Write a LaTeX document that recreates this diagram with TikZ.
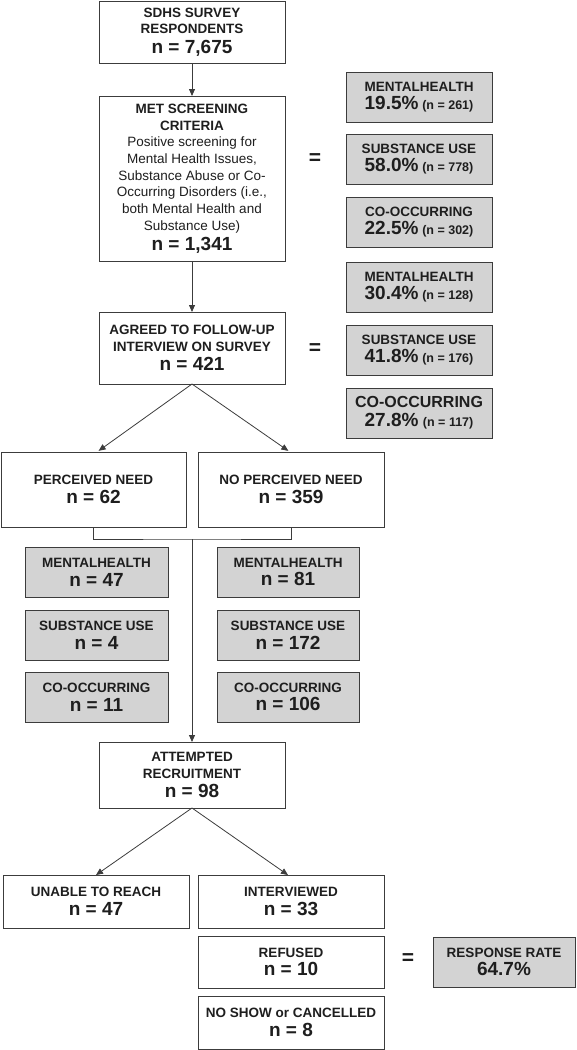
\documentclass[tikz,border=0pt]{standalone}
\usepackage{fontspec}
\setmainfont{Liberation Sans}
\usetikzlibrary{arrows.meta, positioning}
\definecolor{linegray}{RGB}{60,60,60}
\definecolor{fillgray}{RGB}{211,211,211}
\definecolor{textgray}{RGB}{30,30,30}
\newcommand{\bignum}[1]{{\fontsize{19}{20}\selectfont #1}}
\newcommand{\smallnum}[1]{{\fontsize{12.5}{13}\selectfont #1}}
\newcommand{\plain}[1]{{\mdseries #1}}

\begin{document}
\begin{tikzpicture}[
        x=1pt, y=-1pt,
        every node/.style={text=textgray},
        box/.style={rectangle, draw=linegray, line width=1pt, fill=white, minimum width=186pt, inner sep=0pt, outer sep=0pt, align=center, font=\fontsize{13.5}{16.7}\selectfont\bfseries},
        greybox/.style={box, fill=fillgray, minimum width=146pt, minimum height=50pt},
        equal/.style={font=\fontsize{21}{21}\selectfont\bfseries, inner sep=0pt},
        arr/.style={-{Triangle[length=7pt,width=6pt]}, draw=linegray, line width=0.8pt}
    ]
        \useasboundingbox (0,0) rectangle (576,1050);

        % main column
        \node[box, minimum height=62pt] (resp) at (192,32) {SDHS SURVEY\\RESPONDENTS\\[3pt]\bignum{n = 7,675}};
        \node[box, minimum height=165pt, below=33pt of resp] (met) {MET SCREENING\\CRITERIA\\\plain{Positive screening for}\\\plain{Mental Health Issues,}\\\plain{Substance Abuse or Co-}\\\plain{Occurring Disorders (i.e.,}\\\plain{both Mental Health and}\\\plain{Substance Use)}\\[3pt]\bignum{n = 1,341}};
        \node[box, minimum height=72pt, below=51pt of met] (agreed) {AGREED TO FOLLOW-UP\\INTERVIEW ON SURVEY\\[3pt]\bignum{n = 421}};

        % breakdowns on the right
        \node[greybox] (mh1) at (419,97) {MENTALHEALTH\\[2pt]\bignum{19.5\%} \smallnum{(n = 261)}};
        \node[greybox, below=12pt of mh1] (su1) {SUBSTANCE USE\\[2pt]\bignum{58.0\%} \smallnum{(n = 778)}};
        \node[greybox, below=13pt of su1] (co1) {CO-OCCURRING\\[2pt]\bignum{22.5\%} \smallnum{(n = 302)}};
        \node[greybox, below=15pt of co1] (mh2) {MENTALHEALTH\\[2pt]\bignum{30.4\%} \smallnum{(n = 128)}};
        \node[greybox, below=13pt of mh2] (su2) {SUBSTANCE USE\\[2pt]\bignum{41.8\%} \smallnum{(n = 176)}};
        \node[greybox, below=13pt of su2, font=\fontsize{16}{18}\selectfont\bfseries] (co2) {CO-OCCURRING\\[1pt]\bignum{27.8\%} \smallnum{(n = 117)}};
        \node[equal] (eq1) at (315,159) {=};
        \node[equal] (eq2) at (315,349) {=};

        % need split
        \node[box, minimum width=185pt, minimum height=75pt] (perc) at (93.5,489.5) {PERCEIVED NEED\\[2pt]\bignum{n = 62}};
        \node[box, minimum height=75pt, right=12pt of perc] (noperc) {NO PERCEIVED NEED\\[2pt]\bignum{n = 359}};

        \node[greybox, minimum width=143pt] (lmh) at (96.5,572) {MENTALHEALTH\\[2pt]\bignum{n = 47}};
        \node[greybox, minimum width=143pt, below=13pt of lmh] (lsu) {SUBSTANCE USE\\[2pt]\bignum{n = 4}};
        \node[greybox, minimum width=143pt, below=12pt of lsu] (lco) {CO-OCCURRING\\[2pt]\bignum{n = 11}};
        \node[greybox, minimum width=142pt, right=49pt of lmh] (rmh) {MENTALHEALTH\\[2pt]\bignum{n = 81}};
        \node[greybox, minimum width=142pt, below=13pt of rmh] (rsu) {SUBSTANCE USE\\[2pt]\bignum{n = 172}};
        \node[greybox, minimum width=142pt, below=12pt of rsu] (rco) {CO-OCCURRING\\[2pt]\bignum{n = 106}};

        % recruitment
        \node[box, minimum height=66pt] (attempt) at (192,775) {ATTEMPTED\\RECRUITMENT\\[3pt]\bignum{n = 98}};
        \node[box, minimum height=53pt] (unable) at (96,901.5) {UNABLE TO REACH\\[2pt]\bignum{n = 47}};
        \node[box, minimum height=53pt, right=9pt of unable] (interv) {INTERVIEWED\\[2pt]\bignum{n = 33}};
        \node[box, minimum height=52pt, below=8pt of interv] (refused) {REFUSED\\[2pt]\bignum{n = 10}};
        \node[box, minimum height=53pt, below=8pt of refused] (noshow) {NO SHOW or CANCELLED\\[2pt]\bignum{n = 8}};
        \node[greybox, minimum width=142pt, right=49pt of refused] (rate) {RESPONSE RATE\\[2pt]\bignum{64.7\%}};
        \node[equal] (eq3) at (408,959) {=};

        \coordinate (join) at (192,539);

        \draw[arr] (resp) -- (met);
        \draw[arr] (met) -- (agreed);
        \draw[arr, shorten >=2pt] (agreed.south) -- ([xshift=3.5pt]perc.north);
        \draw[arr, shorten >=2pt] (agreed.south) -- ([xshift=-1pt]noperc.north);
        \draw[draw=linegray, line width=0.8pt] (perc.south) |- (join) -| (noperc.south);
        \draw[arr] (join) -- (attempt);
        \draw[arr] (attempt.south) -- (unable.north);
        \draw[arr] (attempt.south) -- ([xshift=-3pt]interv.north);
    \end{tikzpicture}
\end{document}
